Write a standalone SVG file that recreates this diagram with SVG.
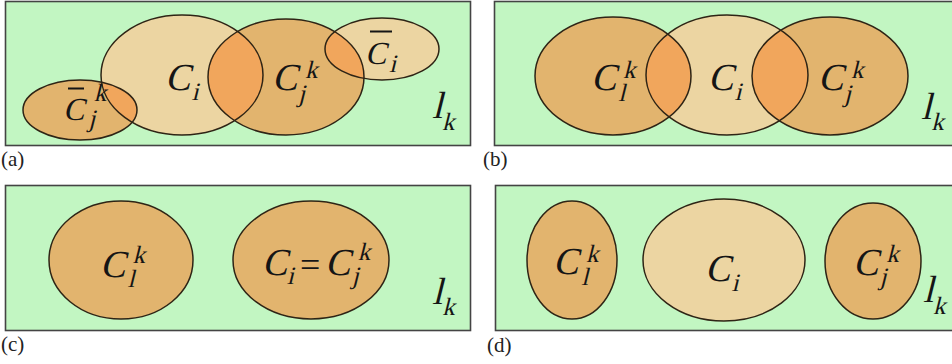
<svg xmlns="http://www.w3.org/2000/svg" width="952" height="364" viewBox="0 0 952 364">
<style>
.bg{fill:#c2f6c2;stroke:#444;stroke-width:1.6}
.lt{fill:#ecd5a2}
.tn{fill:#e2b46e}
.ov{fill:#f1a65c}
.ol{fill:none;stroke:#2e2415;stroke-width:1.5}
.m{font-family:'Liberation Serif','Times New Roman',Times,serif;fill:#151515}
.big{font-size:38px}
.mid{font-size:32px}
.sm{font-size:25px}
.lb{font-family:'Liberation Serif','Times New Roman',Times,serif;font-size:21px;fill:#222}
.bar{stroke:#151515;stroke-width:2}
</style>
<defs>
<clipPath id="cA_Ci"><ellipse cx="182" cy="75" rx="81" ry="60"/></clipPath>
<clipPath id="cA_Cj"><ellipse cx="286" cy="77" rx="78" ry="58"/></clipPath>
<clipPath id="cB_Ci"><ellipse cx="727" cy="75" rx="81" ry="60"/></clipPath>
</defs>

<g id="panel-a">
<rect class="bg" x="5.5" y="1.5" width="465" height="144"/>
<g id="a-Ci"><ellipse class="lt" cx="182" cy="75" rx="81" ry="60"/></g>
<g id="a-Cjk"><ellipse class="tn" cx="286" cy="77" rx="78" ry="58"/></g>
<g id="a-Cibar"><ellipse class="lt" cx="382" cy="49" rx="57" ry="31"/></g>
<g id="a-Cjkbar"><ellipse class="tn" cx="80" cy="110" rx="57" ry="30"/></g>
<ellipse class="ov" cx="286" cy="77" rx="78" ry="58" clip-path="url(#cA_Ci)"/>
<ellipse class="ov" cx="80" cy="110" rx="57" ry="30" clip-path="url(#cA_Ci)"/>
<ellipse class="ov" cx="382" cy="49" rx="57" ry="31" clip-path="url(#cA_Cj)"/>
<ellipse class="ol" cx="182" cy="75" rx="81" ry="60"/>
<ellipse class="ol" cx="286" cy="77" rx="78" ry="58"/>
<ellipse class="ol" cx="382" cy="49" rx="57" ry="31"/>
<ellipse class="ol" cx="80" cy="110" rx="57" ry="30"/>
<text class="m" transform="translate(165,90) skewX(-14)"><tspan class="big" x="0" y="0">C</tspan><tspan class="sm" x="29" y="10">i</tspan></text>
<text class="m" transform="translate(272,90) skewX(-14)"><tspan class="big" x="0" y="0">C</tspan><tspan class="sm" x="30" y="-12">k</tspan><tspan class="sm" x="29" y="12">j</tspan></text>
<text class="m" transform="translate(365,64) skewX(-14)"><tspan class="mid" x="0" y="0">C</tspan><tspan class="sm" x="26" y="8">i</tspan></text>
<line class="bar" x1="370" y1="31.5" x2="392" y2="31.5"/>
<text class="m" transform="translate(63,120) skewX(-14)"><tspan class="mid" x="0" y="0">C</tspan><tspan class="sm" x="26" y="-19">k</tspan><tspan class="sm" x="27" y="7">j</tspan></text>
<line class="bar" x1="68" y1="88.5" x2="84" y2="88.5"/>
<text class="m" transform="translate(432,118) skewX(-14)"><tspan class="big" x="0" y="0">l</tspan><tspan class="sm" x="13" y="12">k</tspan></text>
<text class="lb" x="1" y="166">(a)</text>
</g>

<g id="panel-b">
<rect class="bg" x="494.5" y="1.5" width="470" height="144"/>
<g id="b-Clk"><ellipse class="tn" cx="613" cy="76" rx="78" ry="59"/></g>
<g id="b-Ci"><ellipse class="lt" cx="727" cy="75" rx="81" ry="60"/></g>
<g id="b-Cjk"><ellipse class="tn" cx="830" cy="76" rx="78" ry="59"/></g>
<ellipse class="ov" cx="613" cy="76" rx="78" ry="59" clip-path="url(#cB_Ci)"/>
<ellipse class="ov" cx="830" cy="76" rx="78" ry="59" clip-path="url(#cB_Ci)"/>
<ellipse class="ol" cx="613" cy="76" rx="78" ry="59"/>
<ellipse class="ol" cx="727" cy="75" rx="81" ry="60"/>
<ellipse class="ol" cx="830" cy="76" rx="78" ry="59"/>
<text class="m" transform="translate(591,90) skewX(-14)"><tspan class="big" x="0" y="0">C</tspan><tspan class="sm" x="29" y="-12">k</tspan><tspan class="sm" x="30" y="11">l</tspan></text>
<text class="m" transform="translate(708,90) skewX(-14)"><tspan class="big" x="0" y="0">C</tspan><tspan class="sm" x="29" y="10">i</tspan></text>
<text class="m" transform="translate(818,90) skewX(-14)"><tspan class="big" x="0" y="0">C</tspan><tspan class="sm" x="30" y="-12">k</tspan><tspan class="sm" x="29" y="12">j</tspan></text>
<text class="m" transform="translate(921,119) skewX(-14)"><tspan class="big" x="0" y="0">l</tspan><tspan class="sm" x="13" y="11">k</tspan></text>
<text class="lb" x="483" y="166">(b)</text>
</g>

<g id="panel-c">
<rect class="bg" x="5.5" y="185.5" width="465" height="145"/>
<g id="c-Clk"><ellipse class="tn" cx="121" cy="260" rx="72" ry="59"/><ellipse class="ol" cx="121" cy="260" rx="72" ry="59"/></g>
<g id="c-CiCjk"><ellipse class="tn" cx="311" cy="260" rx="78" ry="59"/><ellipse class="ol" cx="311" cy="260" rx="78" ry="59"/></g>
<text class="m" transform="translate(100,277) skewX(-14)"><tspan class="big" x="0" y="0">C</tspan><tspan class="sm" x="29" y="-14">k</tspan><tspan class="sm" x="30" y="10">l</tspan></text>
<text class="m" transform="translate(262,275) skewX(-14)"><tspan class="big" x="0" y="0">C</tspan><tspan class="sm" x="27" y="9">i</tspan></text>
<text class="m" x="300" y="277" font-size="36">=</text>
<text class="m" transform="translate(325,275) skewX(-14)"><tspan class="big" x="0" y="0">C</tspan><tspan class="sm" x="29" y="-15">k</tspan><tspan class="sm" x="29" y="9">j</tspan></text>
<text class="m" transform="translate(432,304) skewX(-14)"><tspan class="big" x="0" y="0">l</tspan><tspan class="sm" x="13" y="11">k</tspan></text>
<text class="lb" x="1" y="351">(c)</text>
</g>

<g id="panel-d">
<rect class="bg" x="495.5" y="185.5" width="470" height="145"/>
<g id="d-Clk"><ellipse class="tn" cx="572" cy="260" rx="45" ry="59"/><ellipse class="ol" cx="572" cy="260" rx="45" ry="59"/></g>
<g id="d-Ci"><ellipse class="lt" cx="724" cy="260" rx="81" ry="61"/><ellipse class="ol" cx="724" cy="260" rx="81" ry="61"/></g>
<g id="d-Cjk"><ellipse class="tn" cx="873" cy="261" rx="48" ry="58"/><ellipse class="ol" cx="873" cy="261" rx="48" ry="58"/></g>
<text class="m" transform="translate(553,274) skewX(-14)"><tspan class="big" x="0" y="0">C</tspan><tspan class="sm" x="30" y="-12">k</tspan><tspan class="sm" x="31" y="11">l</tspan></text>
<text class="m" transform="translate(705,281) skewX(-14)"><tspan class="big" x="0" y="0">C</tspan><tspan class="sm" x="29" y="10">i</tspan></text>
<text class="m" transform="translate(853,275) skewX(-14)"><tspan class="big" x="0" y="0">C</tspan><tspan class="sm" x="30" y="-13">k</tspan><tspan class="sm" x="29" y="10">j</tspan></text>
<text class="m" transform="translate(923,302) skewX(-14)"><tspan class="big" x="0" y="0">l</tspan><tspan class="sm" x="13" y="12">k</tspan></text>
<text class="lb" x="487" y="352">(d)</text>
</g>
</svg>
